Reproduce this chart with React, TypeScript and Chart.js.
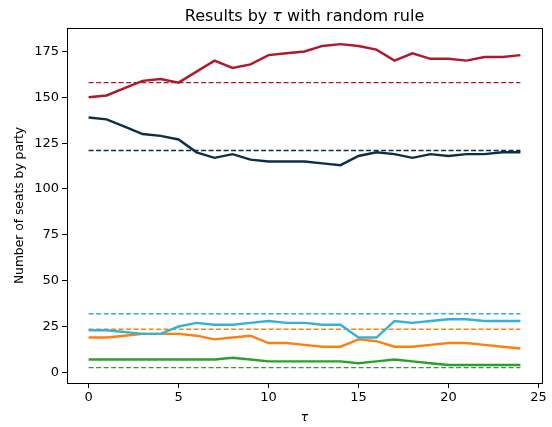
import React, { useEffect, useRef } from "react";
import { Chart, registerables } from "chart.js";

Chart.register(...registerables);

const taus = [0, 1, 2, 3, 4, 5, 6, 7, 8, 9, 10, 11, 12, 13, 14, 15, 16, 17, 18, 19, 20, 21, 22, 23, 24];

const redSeats = [150, 151, 155, 159, 160, 158, 164, 170, 166, 168, 173, 174, 175, 178, 179, 178, 176, 170, 174, 171, 171, 170, 172, 172, 173];
const navySeats = [139, 138, 134, 130, 129, 127, 120, 117, 119, 116, 115, 115, 115, 114, 113, 118, 120, 119, 117, 119, 118, 119, 119, 120, 120];
const cyanSeats = [23, 23, 22, 21, 21, 25, 27, 26, 26, 27, 28, 27, 27, 26, 26, 19, 19, 28, 27, 28, 29, 29, 28, 28, 28];
const orangeSeats = [19, 19, 20, 21, 21, 21, 20, 18, 19, 20, 16, 16, 15, 14, 14, 18, 17, 14, 14, 15, 16, 16, 15, 14, 13];
const greenSeats = [7, 7, 7, 7, 7, 7, 7, 7, 8, 7, 6, 6, 6, 6, 6, 5, 6, 7, 6, 5, 4, 4, 4, 4, 4];

const redRef = 158;
const navyRef = 121;
const cyanRef = 32;
const orangeRef = 23.5;
const greenRef = 2.6;

const xTicks = [0, 5, 10, 15, 20, 25];
const yTicks = [0, 25, 50, 75, 100, 125, 150, 175];

// title pieces: [text, italic]
const TITLE_PARTS: [string, boolean][] = [
  ["Results by ", false],
  ["τ", true],
  [" with random rule", false],
];

const RED = "#b2182b";
const NAVY = "#0b2f4b";
const CYAN = "#35b2d1";
const ORANGE = "#ff7f0e";
const GREEN = "#2ca02c";

const FONT = "'DejaVu Sans', sans-serif";

function solid(data: number[], color: string) {
  return {
    data: taus.map((t, i) => ({ x: t, y: data[i] })),
    borderColor: color,
    backgroundColor: color,
    borderWidth: 2.4,
    pointRadius: 0,
    tension: 0,
    fill: false,
  };
}

function dashed(value: number, color: string) {
  return {
    data: taus.map((t) => ({ x: t, y: value })),
    borderColor: color,
    backgroundColor: color,
    borderWidth: 1.4,
    borderDash: [5, 2.5],
    pointRadius: 0,
    tension: 0,
    fill: false,
  };
}

const framePlugin = {
  id: "frame",
  afterDraw(chart: any) {
    const { ctx, chartArea } = chart;
    ctx.save();
    ctx.strokeStyle = "#000";
    ctx.lineWidth = 1;
    ctx.strokeRect(
      Math.round(chartArea.left) + 0.5,
      Math.round(chartArea.top) + 0.5,
      Math.round(chartArea.right - chartArea.left),
      Math.round(chartArea.bottom - chartArea.top)
    );
    ctx.fillStyle = "#000";
    ctx.textAlign = "left";
    ctx.textBaseline = "alphabetic";
    const fontFor = (it: boolean) => `${it ? "italic " : ""}16px ${FONT}`;
    let total = 0;
    for (const [t, it] of TITLE_PARTS) {
      ctx.font = fontFor(it);
      total += ctx.measureText(t).width;
    }
    let x = (chartArea.left + chartArea.right) / 2 - total / 2;
    const y = chartArea.top - 7;
    for (const [t, it] of TITLE_PARTS) {
      ctx.font = fontFor(it);
      ctx.fillText(t, x, y);
      x += ctx.measureText(t).width;
    }
    ctx.restore();
  },
};

export default function App() {
  const canvasRef = useRef<HTMLCanvasElement | null>(null);

  useEffect(() => {
    const canvas = canvasRef.current;
    if (!canvas) return;
    const chart = new Chart(canvas, {
      type: "line",
      data: {
        datasets: [
          solid(redSeats, RED),
          solid(navySeats, NAVY),
          solid(cyanSeats, CYAN),
          solid(orangeSeats, ORANGE),
          solid(greenSeats, GREEN),
          dashed(redRef, RED),
          dashed(navyRef, NAVY),
          dashed(cyanRef, CYAN),
          dashed(orangeRef, ORANGE),
          dashed(greenRef, GREEN),
        ] as any,
      },
      options: {
        animation: false,
        responsive: true,
        maintainAspectRatio: false,
        layout: { padding: { left: 0, right: 10, top: 28, bottom: 0 } },
        plugins: {
          legend: { display: false },
          tooltip: { enabled: false },
          title: { display: false },
        },
        scales: {
          x: {
            type: "linear",
            min: -1.2,
            max: 25.2,
            afterBuildTicks: (s: any) => {
              s.ticks = xTicks.map((v) => ({ value: v }));
            },
            afterFit: (s: any) => {
              s.height = 44;
            },
            grid: { drawOnChartArea: false, drawTicks: true, tickLength: 5, tickColor: "#000" },
            border: { display: false },
            ticks: { color: "#000", padding: 2, font: { family: FONT, size: 13 }, maxRotation: 0 },
            title: {
              display: true,
              text: "τ",
              color: "#000",
              font: { family: FONT, size: 12.5, style: "italic", lineHeight: 1.2 },
              padding: { top: 0, bottom: 2 },
            },
          },
          y: {
            type: "linear",
            min: -5.8,
            max: 187.8,
            afterBuildTicks: (s: any) => {
              s.ticks = yTicks.map((v) => ({ value: v }));
            },
            afterFit: (s: any) => {
              s.width = 67;
            },
            grid: { drawOnChartArea: false, drawTicks: true, tickLength: 5, tickColor: "#000" },
            border: { display: false },
            ticks: { color: "#000", padding: 3, font: { family: FONT, size: 13 } },
            title: {
              display: true,
              text: "Number of seats by party",
              color: "#000",
              font: { family: FONT, size: 12.3, lineHeight: 1.2 },
              padding: { top: 12, bottom: 0 },
            },
          },
        },
      },
      plugins: [framePlugin],
    });
    return () => chart.destroy();
  }, []);

  return (
    <div style={{ position: "fixed", left: 0, top: 0, width: 552, height: 427, background: "#fff" }}>
      <canvas ref={canvasRef} />
    </div>
  );
}
